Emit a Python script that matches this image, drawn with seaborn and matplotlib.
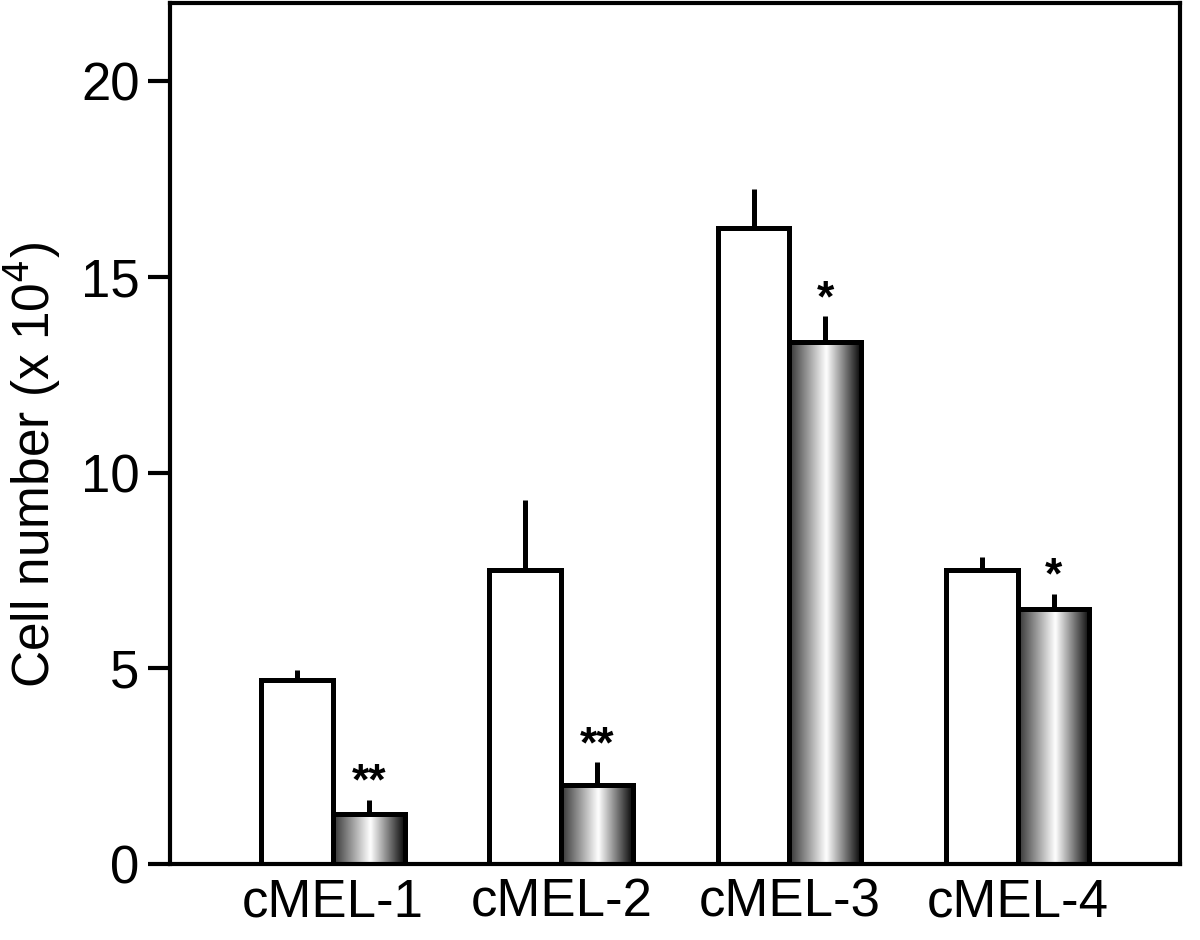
import numpy as np
import pandas as pd
import seaborn as sns
import matplotlib
matplotlib.use("Agg")
import matplotlib.pyplot as plt
from matplotlib.colors import LinearSegmentedColormap

# data
lines = ["cMEL-1", "cMEL-2", "cMEL-3", "cMEL-4"]
control = [4.7, 7.52, 16.24, 7.52]
control_err = [0.25, 1.78, 1.02, 0.33]
treated = [1.28, 2.02, 13.35, 6.52]
treated_err = [0.36, 0.58, 0.65, 0.38]
stars = ["**", "**", "*", "*"]

df = pd.DataFrame({
    "line": lines * 2,
    "group": ["control"] * 4 + ["treated"] * 4,
    "value": control + treated,
})

sns.set_style("white")
plt.rcParams["font.family"] = ["Liberation Sans", "DejaVu Sans"]
plt.rcParams["text.color"] = "black"
plt.rcParams["axes.labelcolor"] = "black"
plt.rcParams["xtick.color"] = "black"
plt.rcParams["ytick.color"] = "black"

fig = plt.figure(figsize=(12, 9.4), dpi=100)
ax = fig.add_axes([0.1417, 0.0809, 0.8413, 0.9159])

sns.barplot(data=df, x="line", y="value", hue="group", order=lines,
            hue_order=["control", "treated"], width=0.63, errorbar=None,
            palette=["white", "white"], edgecolor="black", linewidth=3.6,
            legend=False, ax=ax)

cmap = LinearSegmentedColormap.from_list(
    "shade", [(0, (0.2, 0.2, 0.2)), (0.52, (1, 1, 1)), (1, (0.03, 0.03, 0.03))])
grad = np.linspace(0, 1, 256).reshape(1, -1)

patches = ax.patches
ctrl_bars = patches[:4]
trt_bars = patches[4:8]

# error bars, upper half only, drawn under the bars
for bars, vals, errs in [(ctrl_bars, control, control_err), (trt_bars, treated, treated_err)]:
    xs = [b.get_x() + b.get_width() / 2 for b in bars]
    ax.errorbar(xs, vals, yerr=[np.zeros(4), errs], fmt="none", ecolor="black",
                elinewidth=3.6, capsize=0, zorder=1)

# shaded fill for treated bars
for b in trt_bars:
    x0, w, h = b.get_x(), b.get_width(), b.get_height()
    im = ax.imshow(grad, cmap=cmap, aspect="auto", extent=[x0, x0 + w, 0, h],
                   zorder=b.get_zorder() + 0.1, interpolation="bicubic")
    im.set_clip_path(b)
    ax.add_patch(plt.Rectangle((x0, 0), w, h, fill=False, edgecolor="black",
                               linewidth=3.6, zorder=b.get_zorder() + 0.2))

for b, v, e, s in zip(trt_bars, treated, treated_err, stars):
    ax.text(b.get_x() + b.get_width() / 2, v + e - 0.1, s, ha="center", va="bottom",
            fontsize=32, fontweight="bold")

ax.set_xlim(-0.715, 3.71)
ax.set_ylim(0, 22)
ax.set_yticks([0, 5, 10, 15, 20])
ax.set_xlabel("")
ax.set_ylabel("Cell number (x 10$^4$)", fontsize=37)
ax.yaxis.set_label_coords(-0.106, 0.463)
ax.tick_params(axis="y", length=16, width=3, labelsize=38, pad=6, left=True)
ax.tick_params(axis="x", length=0, labelsize=38, pad=10)
for sp in ax.spines.values():
    sp.set_linewidth(3)
    sp.set_color("black")

fig.savefig("out.png", dpi=100)
